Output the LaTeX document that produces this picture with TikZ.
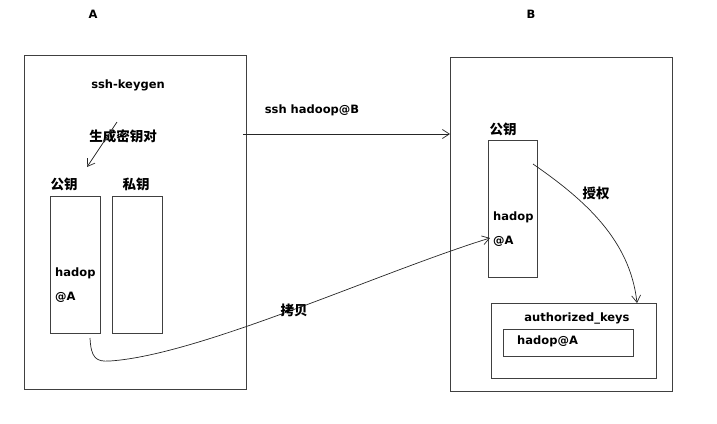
\documentclass[tikz,border=0pt]{standalone}
\usepackage{fontspec}
\setmainfont{DejaVu Sans}
\newfontfamily\cjk{Noto Sans CJK SC}
\usepackage{tikz}
\usetikzlibrary{arrows.meta}

\begin{document}
\begin{tikzpicture}[
        x=1pt, y=-1pt,
        box/.style = {draw=black!75, line width=0.9pt, anchor=north west, inner sep=0pt},
        txt/.style = {font=\fontsize{11.5}{14}\selectfont\bfseries, text=black, inner sep=1pt},
        zh/.style  = {font=\fontsize{13.5}{16}\selectfont\cjk\bfseries, text=black, inner sep=1pt},
        arr/.style = {draw=black!85, line width=0.7pt, -{Straight Barb[length=7pt,width=9pt]}}
    ]
        \useasboundingbox (0,0) rectangle (717,423);
        \node[txt] (labA) at (93,14) {A};
        \node[txt] (labB) at (531,14) {B};
        % host A
        \node[box, minimum width=222pt, minimum height=334pt] (hostA) at (24,55) {};
        \node[txt] (keygen) at (128,85) {ssh-keygen};
        \node[zh] (gen) at (123,136) {生成密钥对};
        \node[zh] (pubAlbl) at (64,184) {公钥};
        \node[zh] (privAlbl) at (136,184) {私钥};
        \node[box, minimum width=50pt, minimum height=137pt] (pubA) at (50,196) {};
        \node[box, minimum width=50pt, minimum height=137pt] (privA) at (112,196) {};
        \node[txt, anchor=west, align=left] (keyA) at (54,285) {hadop\\[10pt]@A};
        % host B
        \node[box, minimum width=222pt, minimum height=334pt] (hostB) at (450,57) {};
        \node[zh] (pubBlbl) at (503,129) {公钥};
        \node[box, minimum width=49pt, minimum height=137pt] (pubB) at (488,140) {};
        \node[txt, anchor=west, align=left] (keyB) at (492,229) {hadop\\[10pt]@A};
        \node[box, minimum width=165pt, minimum height=75pt] (authbox) at (491,303) {};
        \node[txt] (authlbl) at (577,318) {authorized\_keys};
        \node[box, minimum width=130pt, minimum height=27pt] (authkey) at (503,329) {};
        \node[txt, anchor=west] (authtxt) at (516,341) {hadop@A};
        % connectors
        \coordinate (genfrom) at (117,122);
        \coordinate (gento) at (87,167);
        \draw[arr] (genfrom) -- (gento);
        \coordinate (sshfrom) at (243,134);
        \draw[arr] (sshfrom) -- (sshfrom -| hostB.west);
        \node[txt] (sshlbl) at (312,110) {ssh hadoop@B};
        \coordinate (cpfrom) at (90,338);
        \coordinate (cpto) at (490,238);
        \draw[arr] (cpfrom) .. controls (91,358) and (96,362) .. (110,361)
            .. controls (200,355) and (380,272) .. (cpto);
        \node[zh] (cplbl) at (294,310) {拷贝};
        \coordinate (grantfrom) at (533,164);
        \coordinate (grantto) at (637,303);
        \draw[arr] (grantfrom) .. controls (585,200) and (630,240) .. (grantto);
        \node[zh] (grantlbl) at (596,193) {授权};
    \end{tikzpicture}
\end{document}
